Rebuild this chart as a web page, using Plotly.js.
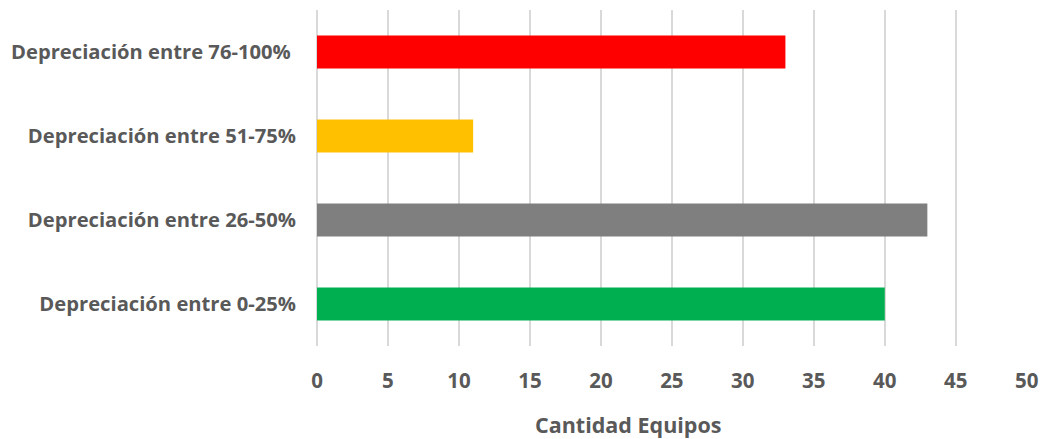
<!DOCTYPE html>
<html>
<head>
<meta charset="utf-8">
<script src="https://cdn.plot.ly/plotly-3.0.1.min.js"></script>
<style>html,body{margin:0;padding:0;background:#fff;}#chart{width:1041px;height:439px;}</style>
</head>
<body>
<div id="chart"></div>
<script>
const categories = ["Depreciación entre 0-25%", "Depreciación entre 26-50%", "Depreciación entre 51-75%", "Depreciación entre 76-100%\u00a0"];
const values = [40, 43, 11, 33];
const colors = ["#00B050", "#7F7F7F", "#FFC000", "#FF0000"];
const xTicks = [0, 5, 10, 15, 20, 25, 30, 35, 40, 45, 50];
const xTitle = "Cantidad Equipos";

const fam = "'Open Sans', Lato, sans-serif";

Plotly.newPlot("chart", [{
  type: "bar",
  orientation: "h",
  y: categories,
  x: values,
  marker: {color: colors},
  hoverinfo: "none"
}], {
  width: 1041,
  height: 439,
  margin: {l: 317, r: 14, t: 10, b: 93},
  paper_bgcolor: "#fff",
  plot_bgcolor: "#fff",
  bargap: 0.607,
  showlegend: false,
  font: {family: fam, size: 18, color: "#595959"},
  xaxis: {
    range: [0, 50.02],
    tickvals: xTicks,
    ticktext: xTicks.map(String),
    showgrid: true,
    gridcolor: "#D9D9D9",
    gridwidth: 2,
    zeroline: true,
    zerolinecolor: "#D9D9D9",
    zerolinewidth: 2,
    showline: false,
    ticks: "",
    ticklabelstandoff: 20,
    tickfont: {family: fam, size: 20.5, color: "#595959", weight: "bold"}
  },
  yaxis: {
    type: "category",
    categoryorder: "array",
    categoryarray: categories,
    showgrid: false,
    zeroline: false,
    showline: false,
    ticks: "",
    ticklabelstandoff: 20,
    tickfont: {family: fam, size: 20.2, color: "#595959", weight: "bold"}
  },
  annotations: [{
    text: xTitle,
    xref: "paper", yref: "paper",
    x: 0.438, y: -0.235,
    xanchor: "center", yanchor: "middle",
    showarrow: false,
    font: {family: fam, size: 21.5, color: "#595959", weight: "bold"}
  }]
}, {displayModeBar: false, staticPlot: true});
</script>
</body>
</html>
